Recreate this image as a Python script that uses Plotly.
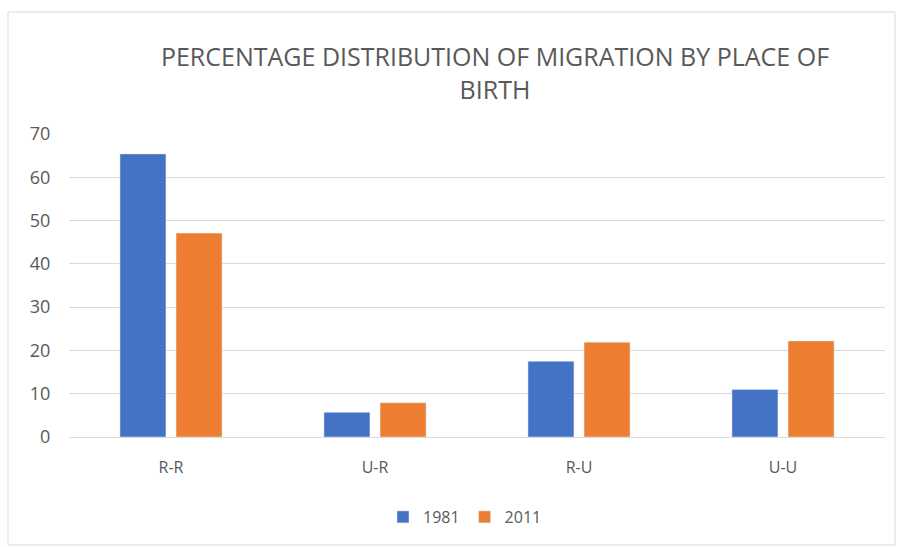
import plotly.graph_objects as go

categories = ["R-R", "U-R", "R-U", "U-U"]
values_1981 = [65.4, 5.7, 17.5, 11.0]
values_2011 = [47.1, 7.9, 21.9, 22.2]
y_ticks = [0, 10, 20, 30, 40, 50, 60, 70]

W, H = 900, 547
L, R, T, B = 69, 15, 134, 110
pw, ph = W - L - R, H - T - B

def px_x(x):
    return (x - L) / pw

def px_y(y):
    return 1 - (y - T) / ph

fig = go.Figure()
fig.add_trace(go.Bar(name="1981", x=categories, y=values_1981, marker_color="#4472C4"))
fig.add_trace(go.Bar(name="2011", x=categories, y=values_2011, marker_color="#ED7D31"))

font_family = "Open Sans, sans-serif"

fig.update_layout(
    width=W, height=H,
    margin=dict(l=L, r=R, t=T, b=B),
    paper_bgcolor="white", plot_bgcolor="white",
    barmode="group", bargap=0.45, bargroupgap=0.18,
    title=dict(
        text="PERCENTAGE DISTRIBUTION OF MIGRATION BY PLACE OF<br>BIRTH",
        x=495 / W, xanchor="center",
        y=1 - 66 / H, yanchor="top",
        font=dict(family=font_family, size=25, color="#595959"),
    ),
    font=dict(family=font_family, color="#595959"),
    xaxis=dict(
        showgrid=False, showline=True, linecolor="#D9D9D9", linewidth=1,
        ticks="", tickfont=dict(size=16, color="#595959"), ticklabelstandoff=16,
    ),
    yaxis=dict(
        range=[0, 70], tickvals=y_ticks, showgrid=True, gridcolor="#D9D9D9",
        gridwidth=1, zeroline=False, showline=False,
        ticks="outside", ticklen=14, tickcolor="rgba(0,0,0,0)",
        tickfont=dict(size=18, color="#595959"),
    ),
    legend=dict(
        orientation="h", x=px_x(465), xanchor="center", y=px_y(517), yanchor="middle",
        font=dict(size=16, color="#595959"), itemwidth=30, traceorder="normal",
    ),
    shapes=[dict(
        type="rect", xref="paper", yref="paper",
        x0=px_x(8), x1=px_x(895), y0=px_y(545), y1=px_y(12),
        line=dict(color="#D9D9D9", width=1),
    )],
)

fig.write_html("out.html")
